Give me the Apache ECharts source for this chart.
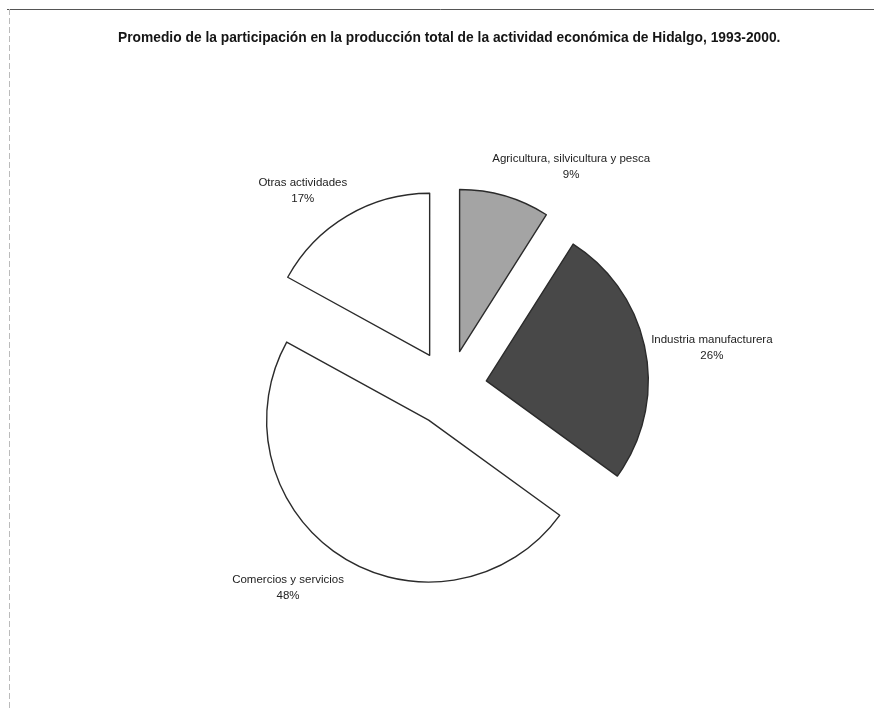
<!DOCTYPE html>
<html>
<head>
<meta charset="utf-8">
<script src="https://cdn.jsdelivr.net/npm/echarts@6/dist/echarts.min.js"></script>
<style>
  html, body { margin: 0; padding: 0; background: #fff; }
  #chart { width: 874px; height: 710px; }
</style>
</head>
<body>
<div id="chart"></div>
<script>
// Participación promedio por actividad económica (%), Hidalgo 1993-2000
const categories = [
  'Agricultura, silvicultura y pesca',
  'Industria manufacturera',
  'Comercios y servicios',
  'Otras actividades'
];
const shares = [9, 26, 48, 17];

const sliceColors = ['#a4a4a4', '#484848', '#ffffff', '#ffffff'];

// Pie geometry (shared by the series and the label placement)
const CX = 449, CY = 388, R = 162, EXPLODE = 38;
const LABEL_FONT = '11.5px "Liberation Sans", Arial, sans-serif';
const LABEL_LINE_H = 16;

const total = shares.reduce((a, b) => a + b, 0);
// Mid angle of each slice, measured clockwise from 12 o'clock
const midAngles = (() => {
  let acc = 0;
  return shares.map(v => {
    const mid = (acc + v / 2) / total * 2 * Math.PI;
    acc += v;
    return mid;
  });
})();

// Width of the widest line of a label, for pushing it clear of its slice
const measureCtx = document.createElement('canvas').getContext('2d');
measureCtx.font = LABEL_FONT;
function labelWidth(lines) {
  return Math.max(...lines.map(s => measureCtx.measureText(s).width));
}

// Category / percentage labels placed just outside each exploded slice
const sliceLabels = categories.map((name, i) => {
  const a = midAngles[i];
  const ux = Math.sin(a), uy = -Math.cos(a);
  const lines = [name, shares[i] + '%'];
  const w = labelWidth(lines);
  return {
    type: 'text',
    silent: true,
    style: {
      text: lines.join('\n'),
      x: CX + ux * (EXPLODE + R + 20) + Math.sign(ux) * w * 0.385,
      y: CY + uy * (EXPLODE + R + 33) + 3,
      align: 'center',
      verticalAlign: 'middle',
      textAlign: 'center',
      textVerticalAlign: 'middle',
      font: LABEL_FONT,
      lineHeight: LABEL_LINE_H,
      fill: '#222'
    }
  };
});

const chart = echarts.init(document.getElementById('chart'), null, { renderer: 'canvas' });

const data = categories.map((name, i) => ({
  name: name,
  value: shares[i],
  selected: true,
  itemStyle: { color: sliceColors[i] },
  select: { itemStyle: { color: sliceColors[i], borderColor: '#2b2b2b', borderWidth: 1.4 } }
}));

chart.setOption({
  animation: false,
  backgroundColor: '#ffffff',
  title: {
    text: 'Promedio de la participación en la producción total de la actividad económica de Hidalgo, 1993-2000.',
    left: 118,
    top: 31,
    padding: 0,
    textStyle: {
      fontFamily: 'Liberation Sans, Arial, sans-serif',
      fontSize: 13.8,
      fontWeight: 'bold',
      color: '#151515'
    }
  },
  graphic: [
    { type: 'line', shape: { x1: 7, y1: 9.5, x2: 874, y2: 9.5 }, style: { stroke: '#555', lineWidth: 1 }, silent: true },
    { type: 'line', shape: { x1: 9.5, y1: 9, x2: 9.5, y2: 710 }, style: { stroke: '#bbb', lineWidth: 1, lineDash: [6, 3] }, silent: true }
  ].concat(sliceLabels),
  series: [{
    type: 'pie',
    center: [CX, CY],
    radius: R,
    startAngle: 90,
    clockwise: true,
    selectedMode: 'multiple',
    selectedOffset: EXPLODE,
    itemStyle: { borderColor: '#2b2b2b', borderWidth: 1.4 },
    emphasis: { disabled: true },
    label: { show: false },
    labelLine: { show: false },
    data: data
  }]
});
</script>
</body>
</html>
